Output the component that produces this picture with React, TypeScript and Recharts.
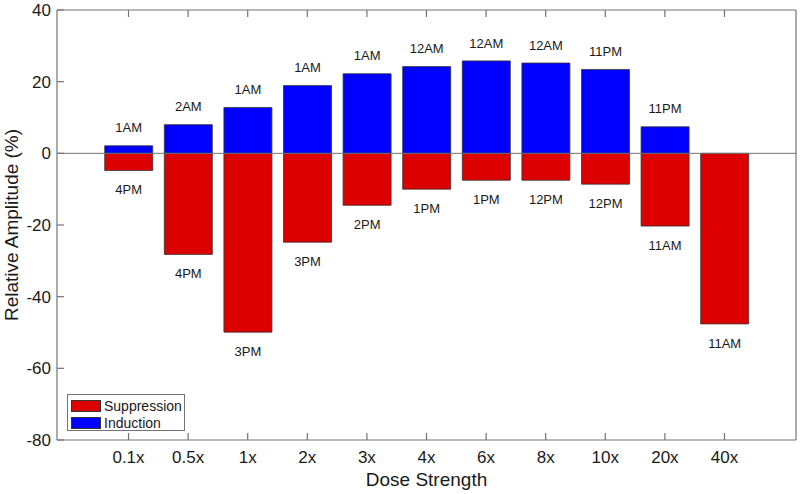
import {
  BarChart,
  Bar,
  XAxis,
  YAxis,
  ReferenceLine,
  Legend,
  LabelList,
} from "recharts";

const categories = ["0.1x", "0.5x", "1x", "2x", "3x", "4x", "6x", "8x", "10x", "20x", "40x"];
const induction = [2.1, 8.0, 12.8, 18.9, 22.2, 24.2, 25.8, 25.2, 23.4, 7.4, 0];
const suppression = [-4.8, -28.2, -49.9, -24.8, -14.5, -10.0, -7.5, -7.5, -8.6, -20.3, -47.6];
const inductionPeaks = ["1AM", "2AM", "1AM", "1AM", "1AM", "12AM", "12AM", "12AM", "11PM", "11PM", ""];
const suppressionPeaks = ["4PM", "4PM", "3PM", "3PM", "2PM", "1PM", "1PM", "12PM", "12PM", "11AM", "11AM"];
const yTicks = [-80, -60, -40, -20, 0, 20, 40];

const RED = "#dd0000";
const BLUE = "#0000ff";
const AXIS = "#737373";
const TEXT = "#1a1a1a";
const FONT = "'Liberation Sans', Arial, Helvetica, sans-serif";

const rows = categories.map((c, i) => ({
  pos: i + 1,
  name: c,
  Suppression: suppression[i],
  Induction: induction[i],
  supLabel: suppressionPeaks[i],
  indLabel: inductionPeaks[i],
}));
const xTicks = rows.map((r) => r.pos);

const axisLine = { stroke: AXIS, strokeWidth: 1.2 };

// matlab-style ticks: short marks pointing into the plot
const BottomTick = (props: any) => {
  const { x, y, payload } = props;
  return (
    <g>
      <path d={`M${x},${y}V${y - 7}`} stroke={AXIS} strokeWidth={1.2} fill="none" />
      <text x={x} y={y + 23} textAnchor="middle" fontSize={17} fontFamily={FONT} fill={TEXT}>
        {categories[payload.value - 1]}
      </text>
    </g>
  );
};

const TopTick = (props: any) => {
  const { x, y } = props;
  return <path d={`M${x},${y}V${y + 7}`} stroke={AXIS} strokeWidth={1.2} fill="none" />;
};

const LeftTick = (props: any) => {
  const { x, y, payload } = props;
  return (
    <g>
      <path d={`M${x},${y}H${x + 7}`} stroke={AXIS} strokeWidth={1.2} fill="none" />
      <text x={x - 6} y={y} dy="0.36em" textAnchor="end" fontSize={17} fontFamily={FONT} fill={TEXT}>
        {payload.value}
      </text>
    </g>
  );
};

const RightTick = (props: any) => {
  const { x, y } = props;
  return <path d={`M${x},${y}H${x - 7}`} stroke={AXIS} strokeWidth={1.2} fill="none" />;
};

const UpLabel = (props: any) => {
  const { x, y, width, height, value } = props;
  if (!value) return null;
  const top = Math.min(y, y + height);
  return (
    <text x={x + width / 2} y={top - 18} dy="0.36em" textAnchor="middle" fontSize={13} fontFamily={FONT} fill={TEXT}>
      {value}
    </text>
  );
};

const DownLabel = (props: any) => {
  const { x, y, width, height, value } = props;
  if (!value) return null;
  const bottom = Math.max(y, y + height);
  return (
    <text x={x + width / 2} y={bottom + 19} dy="0.36em" textAnchor="middle" fontSize={13} fontFamily={FONT} fill={TEXT}>
      {value}
    </text>
  );
};

const legendItems = [
  { label: "Suppression", color: RED },
  { label: "Induction", color: BLUE },
];

const LegendBox = () => (
  <div
    style={{
      boxSizing: "border-box",
      width: 118,
      height: 37,
      border: `1px solid ${AXIS}`,
      background: "#fff",
      padding: "3px 0 0 3px",
      fontFamily: FONT,
      fontSize: 14,
      color: TEXT,
    }}
  >
    {legendItems.map((it) => (
      <div key={it.label} style={{ display: "flex", alignItems: "center", height: 16, marginBottom: 0.5 }}>
        <span
          style={{
            display: "inline-block",
            boxSizing: "border-box",
            width: 30,
            height: 12,
            background: it.color,
            border: "1px solid #333",
            marginRight: 3,
          }}
        />
        <span style={{ lineHeight: "16px" }}>{it.label}</span>
      </div>
    ))}
  </div>
);

export default function App() {
  return (
    <div style={{ position: "absolute", left: 0, top: 0, background: "#fff" }}>
      <BarChart
        width={800}
        height={494}
        data={rows}
        stackOffset="sign"
        margin={{ top: 9, right: 3, bottom: 0, left: 0 }}
      >
        <XAxis
          dataKey="pos"
          type="number"
          domain={[-0.2, 12.2]}
          ticks={xTicks}
          interval={0}
          height={54}
          tickSize={0}
          tickMargin={0}
          tickLine={false}
          axisLine={axisLine}
          tick={<BottomTick />}
          label={(p: any) => {
            const vb = p.viewBox;
            return (
              <text x={vb.x + vb.width / 2} y={486} textAnchor="middle" fontSize={19} fontFamily={FONT} fill={TEXT}>
                Dose Strength
              </text>
            );
          }}
        />
        <XAxis
          xAxisId="top"
          orientation="top"
          dataKey="pos"
          type="number"
          domain={[-0.2, 12.2]}
          ticks={xTicks}
          interval={0}
          height={1}
          tickSize={0}
          tickMargin={0}
          tickLine={false}
          axisLine={axisLine}
          tick={<TopTick />}
        />
        <YAxis
          type="number"
          domain={[-80, 40]}
          ticks={yTicks}
          interval={0}
          width={57}
          tickSize={0}
          tickMargin={0}
          tickLine={false}
          axisLine={axisLine}
          tick={<LeftTick />}
          label={(p: any) => {
            const vb = p.viewBox;
            const cy = vb.y + vb.height / 2;
            return (
              <text
                x={18}
                y={cy}
                transform={`rotate(-90, 18, ${cy})`}
                textAnchor="middle"
                fontSize={19}
                fontFamily={FONT}
                fill={TEXT}
              >
                Relative Amplitude (%)
              </text>
            );
          }}
        />
        <YAxis
          yAxisId="right"
          orientation="right"
          type="number"
          domain={[-80, 40]}
          ticks={yTicks}
          interval={0}
          width={1}
          tickSize={0}
          tickMargin={0}
          tickLine={false}
          axisLine={axisLine}
          tick={<RightTick />}
        />
        <ReferenceLine y={0} stroke={AXIS} strokeWidth={1} />
        <Bar dataKey="Suppression" stackId="s" fill={RED} stroke="#333" strokeWidth={0.8} barSize={48} isAnimationActive={false}>
          <LabelList dataKey="supLabel" content={<DownLabel />} />
        </Bar>
        <Bar dataKey="Induction" stackId="s" fill={BLUE} stroke="#333" strokeWidth={0.8} barSize={48} isAnimationActive={false}>
          <LabelList dataKey="indLabel" content={<UpLabel />} />
        </Bar>
        <Legend
          layout="horizontal"
          verticalAlign="middle"
          align="center"
          content={<LegendBox />}
          wrapperStyle={{ left: 67, top: 394, width: 118, height: 37 }}
        />
      </BarChart>
    </div>
  );
}
